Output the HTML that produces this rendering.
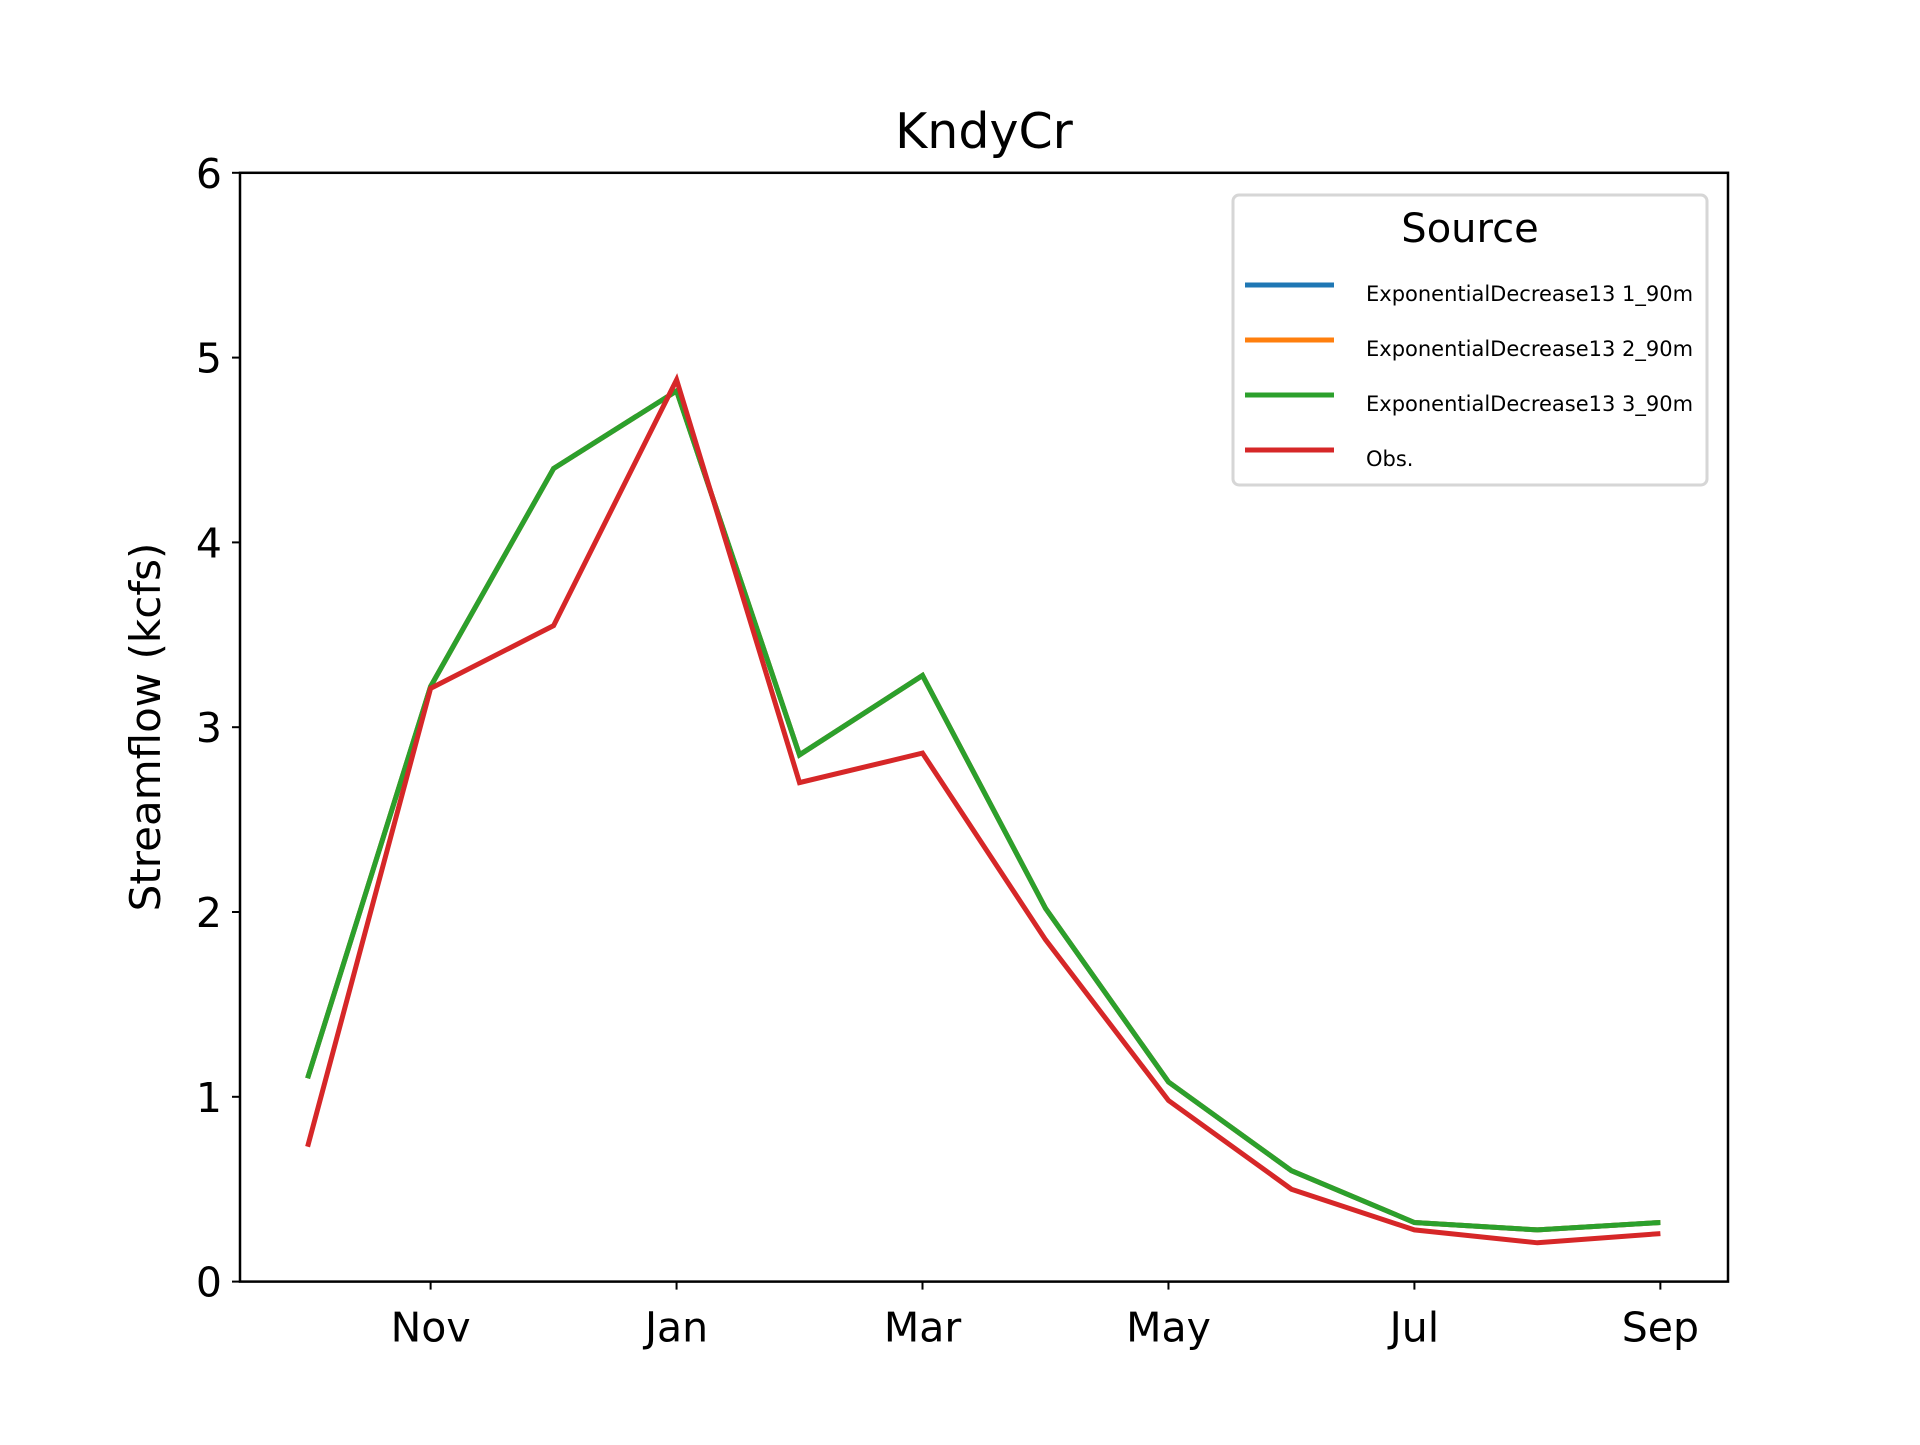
<!DOCTYPE html>
<html><head><meta charset="utf-8"><style>
body{margin:0;background:#fff}
svg text{font-family:"DejaVu Sans","Liberation Sans",sans-serif;fill:#000}
</style></head><body>
<svg id="chart" width="1920" height="1440" viewBox="0 0 1920 1440" xmlns="http://www.w3.org/2000/svg">
<rect width="1920" height="1440" fill="#fff"/>
<text x="984" y="148" font-size="49" text-anchor="middle">KndyCr</text>
<g id="plot"></g>
<rect x="240" y="172.8" width="1488" height="1108.8" fill="none" stroke="#000" stroke-width="2.5"/>
<text transform="translate(160,727) rotate(-90)" font-size="42" text-anchor="middle">Streamflow (kcfs)</text>
<g>
<rect x="1233" y="195" width="474" height="290" rx="6" fill="#fff" fill-opacity="0.8" stroke="#d6d6d6" stroke-width="3"/>
<text x="1470" y="242" font-size="40" text-anchor="middle">Source</text>
<g id="legend-entries"></g>
</g>
</svg>
<script>
const months = ["Oct","Nov","Dec","Jan","Feb","Mar","Apr","May","Jun","Jul","Aug","Sep"];
const tickLabels = ["Nov","Jan","Mar","May","Jul","Sep"];
const tickIdx = [1,3,5,7,9,11];
const yTicks = [0,1,2,3,4,5,6];
const seriesNames = ["ExponentialDecrease13 1_90m","ExponentialDecrease13 2_90m","ExponentialDecrease13 3_90m","Obs."];
const exp1 = [1.10,3.22,4.40,4.82,2.85,3.28,2.02,1.08,0.60,0.32,0.28,0.32];
const exp2 = [1.10,3.22,4.40,4.82,2.85,3.28,2.02,1.08,0.60,0.32,0.28,0.32];
const exp3 = [1.10,3.22,4.40,4.82,2.85,3.28,2.02,1.08,0.60,0.32,0.28,0.32];
const obs = [0.73,3.21,3.55,4.88,2.70,2.86,1.85,0.98,0.50,0.28,0.21,0.26];
const colors = ["#1f77b4","#ff7f0e","#2ca02c","#d62728"];

const L=240,R=1728,T=172.8,B=1281.6;
const n=months.length, pad=(n-1)*0.05;
function xs(i){return L+(i+pad)/((n-1)+2*pad)*(R-L);}
function ys(v){return B-(v-0)/(6-0)*(B-T);}
const NS="http://www.w3.org/2000/svg";
const plot=document.getElementById('plot');
function mk(tag,attrs,parent){const e=document.createElementNS(NS,tag);for(const k in attrs)e.setAttribute(k,attrs[k]);parent.appendChild(e);return e;}

yTicks.forEach(v=>{
  const t=mk('line',{x1:L-8,x2:L,y1:ys(v),y2:ys(v),stroke:'#000','stroke-width':2},plot);
  
  
  const lb=mk('text',{x:L-18,y:ys(v)+15,'font-size':41,'text-anchor':'end'},plot);
  lb.textContent=v;
  
  
});
tickIdx.forEach((idx,k)=>{
  const t=mk('line',{x1:xs(idx),x2:xs(idx),y1:B,y2:B+8,stroke:'#000','stroke-width':2},plot);
  
  
  const lb=mk('text',{x:xs(idx),y:B+60,'font-size':41,'text-anchor':'middle'},plot);
  lb.textContent=tickLabels[k];
  
  
});
[exp1,exp2,exp3,obs].forEach((s,si)=>{
  const pts=s.map((v,i)=>xs(i).toFixed(1)+','+ys(v).toFixed(1)).join(' ');
  const p=mk('polyline',{points:pts,fill:'none',stroke:colors[si],'stroke-width':5,'stroke-linejoin':'miter'},plot);
  
  
});
const leg=document.getElementById('legend-entries');
seriesNames.forEach((nm,i)=>{
  const y=285+i*55;
  const l=mk('line',{x1:1245,x2:1334,y1:y,y2:y,stroke:colors[i],'stroke-width':5},leg);
  
  
  const t=mk('text',{x:1366,y:y+16,'font-size':21},leg);
  t.textContent=nm;
  
  
});
</script>
</body></html>
